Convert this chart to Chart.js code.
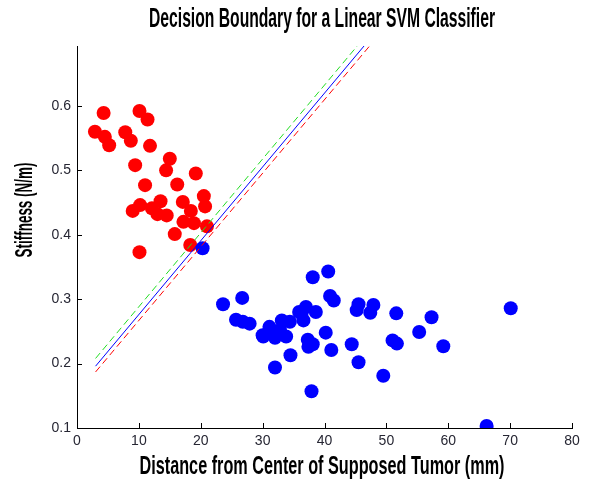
<!DOCTYPE html>
<html>
<head>
<meta charset="utf-8">
<script src="https://cdn.jsdelivr.net/npm/chart.js@4.4.1/dist/chart.umd.min.js"></script>
<style>
  body { margin: 0; background: #fff; }
  #wrap { width: 595px; height: 485px; }
</style>
</head>
<body>
<div id="wrap"><canvas id="svmChart" width="595" height="485"></canvas></div>
<script>
// Class 1 (red): tissue points near the tumour
const redX = [4.3, 10.1, 11.4, 2.9, 4.5, 5.2, 7.8, 8.7, 11.8, 15.0, 9.4, 14.4, 19.2, 11.0, 16.2,
              20.5, 20.7, 9.0, 10.2, 12.1, 13.5, 13.0, 14.5, 17.1, 18.4, 17.2, 18.9, 21.0, 15.8, 18.3, 10.1];
const redY = [0.589, 0.592, 0.579, 0.560, 0.552, 0.539, 0.559, 0.546, 0.538, 0.518, 0.508, 0.500, 0.495, 0.477, 0.478,
              0.460, 0.444, 0.437, 0.446, 0.441, 0.452, 0.432, 0.430, 0.451, 0.437, 0.420, 0.418, 0.413, 0.401, 0.384, 0.373];

// Class 2 (blue): tissue points far from the tumour
const blueX = [20.3, 38.1, 40.6, 23.6, 26.7, 40.9, 41.5, 25.7, 26.8, 27.9, 30.1, 31.1, 32.0, 33.1, 33.8, 34.4,
               35.9, 37.0, 36.6, 38.6, 37.3, 38.1, 37.4, 40.2, 41.1, 44.4, 45.5, 45.5, 45.2, 47.9, 47.4, 49.5,
               51.6, 51.0, 51.7, 34.5, 32.0, 37.9, 30.9, 32.8, 30.0, 36.3, 57.3, 55.3, 59.2, 70.1, 66.2];
const blueY = [0.379, 0.334, 0.343, 0.292, 0.302, 0.305, 0.298, 0.268, 0.265, 0.262, 0.242, 0.257, 0.240, 0.267, 0.242, 0.265,
               0.280, 0.288, 0.267, 0.280, 0.237, 0.230, 0.226, 0.248, 0.221, 0.230, 0.202, 0.292, 0.283, 0.291, 0.279, 0.181,
               0.278, 0.236, 0.231, 0.213, 0.194, 0.157, 0.248, 0.252, 0.244, 0.278, 0.272, 0.249, 0.227, 0.286, 0.103];

// Decision boundary and the two margins (end points)
const lineX = [3.0, 47.0];
const boundaryY = [0.196, 0.700];
const marginUpX = [3.0, 45.9];
const marginUpY = [0.208, 0.700];
const marginLowX = [3.0, 47.9];
const marginLowY = [0.187, 0.700];

// Tick labels
const xTicks = [0, 10, 20, 30, 40, 50, 60, 70, 80];
const yTicks = [0.1, 0.2, 0.3, 0.4, 0.5, 0.6];

const chartTitle = 'Decision Boundary for a Linear SVM Classifier';
const xTitle = 'Distance from Center of Supposed Tumor (mm)';
const yTitle = 'Stiffness (N/m)';

const toPoints = (xs, ys) => xs.map((v, i) => ({ x: v, y: ys[i] }));

const labelFont = "'Liberation Sans', Arial, sans-serif";

// MATLAB style ticks that point into the plot
const inwardTicks = {
  id: 'inwardTicks',
  afterDatasetsDraw(chart) {
    const { ctx, chartArea, scales: { x, y } } = chart;
    ctx.save();
    ctx.strokeStyle = '#000';
    ctx.lineWidth = 1;
    ctx.beginPath();
    xTicks.forEach(v => {
      const px = Math.round(x.getPixelForValue(v)) + 0.5;
      ctx.moveTo(px, chartArea.bottom);
      ctx.lineTo(px, chartArea.bottom - 5);
    });
    yTicks.forEach(v => {
      const py = Math.round(y.getPixelForValue(v)) + 0.5;
      ctx.moveTo(chartArea.left, py);
      ctx.lineTo(chartArea.left + 5, py);
    });
    ctx.stroke();
    ctx.restore();
  }
};

// Condensed titles (the original uses a narrow display face), squeezed with maxWidth
const narrowTitles = {
  id: 'narrowTitles',
  afterDraw(chart) {
    const { ctx } = chart;
    ctx.save();
    ctx.fillStyle = '#000';
    ctx.textAlign = 'center';
    ctx.textBaseline = 'alphabetic';

    ctx.font = `bold 28px ${labelFont}`;
    ctx.fillText(chartTitle, 322, 27, 346);

    ctx.font = `bold 26px ${labelFont}`;
    ctx.fillText(xTitle, 322, 474, 365);

    ctx.translate(32, 210);
    ctx.rotate(-Math.PI / 2);
    ctx.font = `bold 24px ${labelFont}`;
    ctx.fillText(yTitle, 0, 0, 95);
    ctx.restore();
  }
};

const lineStyle = (label, xs, ys, color, dash, order) => ({
  label,
  type: 'line',
  data: toPoints(xs, ys),
  borderColor: color,
  borderWidth: 1,
  borderDash: dash,
  pointRadius: 0,
  showLine: true,
  fill: false,
  order
});

new Chart(document.getElementById('svmChart'), {
  type: 'scatter',
  data: {
    datasets: [
      lineStyle('Margin +', marginUpX, marginUpY, '#22dd22', [7, 4], 1),
      lineStyle('Boundary', lineX, boundaryY, '#0000ff', [], 1),
      lineStyle('Margin -', marginLowX, marginLowY, '#ff0000', [7, 4], 1),
      {
        label: 'Blue class',
        data: toPoints(blueX, blueY),
        backgroundColor: '#0000ff',
        borderWidth: 0,
        pointRadius: 7,
        pointHoverRadius: 7,
        order: 2
      },
      {
        label: 'Red class',
        data: toPoints(redX, redY),
        backgroundColor: '#ff0000',
        borderWidth: 0,
        pointRadius: 7,
        pointHoverRadius: 7,
        order: 3
      }
    ]
  },
  options: {
    responsive: false,
    animation: false,
    events: [],
    layout: { padding: { left: 0, right: 23, top: 46, bottom: 0 } },
    plugins: {
      legend: { display: false },
      tooltip: { enabled: false },
      title: { display: false }
    },
    scales: {
      x: {
        type: 'linear',
        min: 0,
        max: 80,
        afterFit: s => { s.height = 57; },
        afterBuildTicks: s => { s.ticks = xTicks.map(v => ({ value: v })); },
        border: { display: true, color: '#000', width: 1 },
        grid: { display: false, drawTicks: false },
        ticks: { color: '#262633', font: { family: labelFont, size: 14 }, padding: 5, maxRotation: 0 }
      },
      y: {
        type: 'linear',
        min: 0.1,
        max: 0.693,
        afterFit: s => { s.width = 77; },
        afterBuildTicks: s => { s.ticks = yTicks.map(v => ({ value: v })); },
        border: { display: true, color: '#000', width: 1 },
        grid: { display: false, drawTicks: false },
        ticks: { color: '#262633', font: { family: labelFont, size: 14 }, padding: 6,
                 callback: v => v.toFixed(1) }
      }
    }
  },
  plugins: [inwardTicks, narrowTitles]
});
</script>
</body>
</html>
